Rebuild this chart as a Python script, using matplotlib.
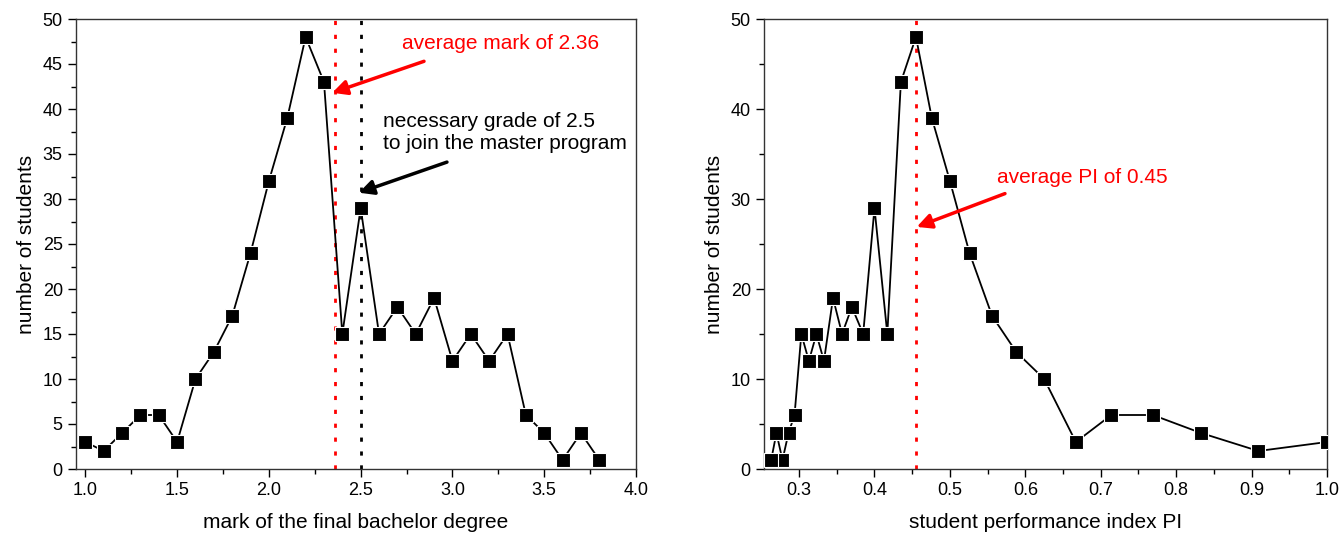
import matplotlib
matplotlib.use("Agg")
import matplotlib.pyplot as plt
from matplotlib.ticker import MultipleLocator

plt.rcParams['font.family'] = ['Liberation Sans', 'DejaVu Sans']

# Left panel: mark of the final bachelor degree
marks = [1.0, 1.1, 1.2, 1.3, 1.4, 1.5, 1.6, 1.7, 1.8, 1.9, 2.0, 2.1, 2.2, 2.3, 2.4,
         2.5, 2.6, 2.7, 2.8, 2.9, 3.0, 3.1, 3.2, 3.3, 3.4, 3.5, 3.6, 3.7, 3.8]
counts_mark = [3, 2, 4, 6, 6, 3, 10, 13, 17, 24, 32, 39, 48, 43, 15,
               29, 15, 18, 15, 19, 12, 15, 12, 15, 6, 4, 1, 4, 1]

# Right panel: student performance index PI
pi_values = [1.0, 0.909, 0.833, 0.769, 0.714, 0.667, 0.625, 0.588, 0.556, 0.526,
             0.500, 0.476, 0.455, 0.435, 0.417, 0.400, 0.385, 0.370, 0.357, 0.345,
             0.333, 0.323, 0.313, 0.303, 0.294, 0.286, 0.278, 0.270, 0.263]
counts_pi = counts_mark

avg_mark = 2.36
req_grade = 2.5
avg_pi = 0.455

fig = plt.figure(figsize=(13.41, 5.40), dpi=100)
ax1 = fig.add_axes([76/1341, 71/540, 560/1341, 450/540])
ax2 = fig.add_axes([764/1341, 71/540, 563/1341, 450/540])

mk = dict(color='black', lw=1.3, marker='s', markersize=10,
          markerfacecolor='black', markeredgecolor='white', markeredgewidth=0.8)

arrow_kw = dict(arrowstyle='-|>', lw=2.5, mutation_scale=22, shrinkA=0, shrinkB=0)

ax1.plot(marks, counts_mark, **mk, zorder=3)
ax1.axvline(avg_mark, color='red', ls=(0, (1.5, 3.5)), lw=2, zorder=2)
ax1.axvline(req_grade, color='black', ls=(0, (1.5, 3.5)), lw=2, zorder=2)
ax1.set_xlim(0.949, 4.0)
ax1.set_ylim(0, 50)
ax1.xaxis.set_major_locator(MultipleLocator(0.5))
ax1.xaxis.set_minor_locator(MultipleLocator(0.25))
ax1.yaxis.set_major_locator(MultipleLocator(5))
ax1.yaxis.set_minor_locator(MultipleLocator(2.5))
ax1.set_xlabel('mark of the final bachelor degree', fontsize=15, labelpad=10)
ax1.set_ylabel('number of students', fontsize=15, labelpad=5)
ax1.text(2.725, 47.3, 'average mark of 2.36', color='red', fontsize=15, va='center')
ax1.annotate('', xy=(2.345, 41.8), xytext=(2.845, 45.3),
             arrowprops=dict(color='red', **arrow_kw))
ax1.text(2.622, 37.4, 'necessary grade of 2.5\nto join the master program',
         color='black', fontsize=15, va='center', linespacing=1.2)
ax1.annotate('', xy=(2.49, 30.7), xytext=(2.97, 34.1),
             arrowprops=dict(color='black', **arrow_kw))

ax2.plot(pi_values, counts_pi, **mk, zorder=3)
ax2.axvline(avg_pi, color='red', ls=(0, (1.5, 3.5)), lw=2, zorder=2)
ax2.set_xlim(0.2535, 1.0)
ax2.set_ylim(0, 50)
ax2.xaxis.set_major_locator(MultipleLocator(0.1))
ax2.xaxis.set_minor_locator(MultipleLocator(0.05))
ax2.yaxis.set_major_locator(MultipleLocator(10))
ax2.yaxis.set_minor_locator(MultipleLocator(5))
ax2.set_xlabel('student performance index PI', fontsize=15, labelpad=10)
ax2.set_ylabel('number of students', fontsize=15, labelpad=5)
ax2.text(0.5624, 32.4, 'average PI of 0.45', color='red', fontsize=15, va='center')
ax2.annotate('', xy=(0.456, 26.9), xytext=(0.573, 30.6),
             arrowprops=dict(color='red', **arrow_kw))

for ax in (ax1, ax2):
    ax.tick_params(which='both', direction='out', top=False, right=False,
                   labelsize=13, colors='black')
    ax.tick_params(which='major', length=6, width=1)
    ax.tick_params(which='minor', length=3.5, width=1)
    for s in ax.spines.values():
        s.set_linewidth(1)
        s.set_color('#333333')

ax1.set_xticks([1.0, 1.5, 2.0, 2.5, 3.0, 3.5, 4.0])
ax1.set_xticklabels(['1.0', '1.5', '2.0', '2.5', '3.0', '3.5', '4.0'])
ax2.set_xticks([0.3, 0.4, 0.5, 0.6, 0.7, 0.8, 0.9, 1.0])
ax2.set_xticklabels(['0.3', '0.4', '0.5', '0.6', '0.7', '0.8', '0.9', '1.0'])

fig.savefig('out.png', dpi=100)
